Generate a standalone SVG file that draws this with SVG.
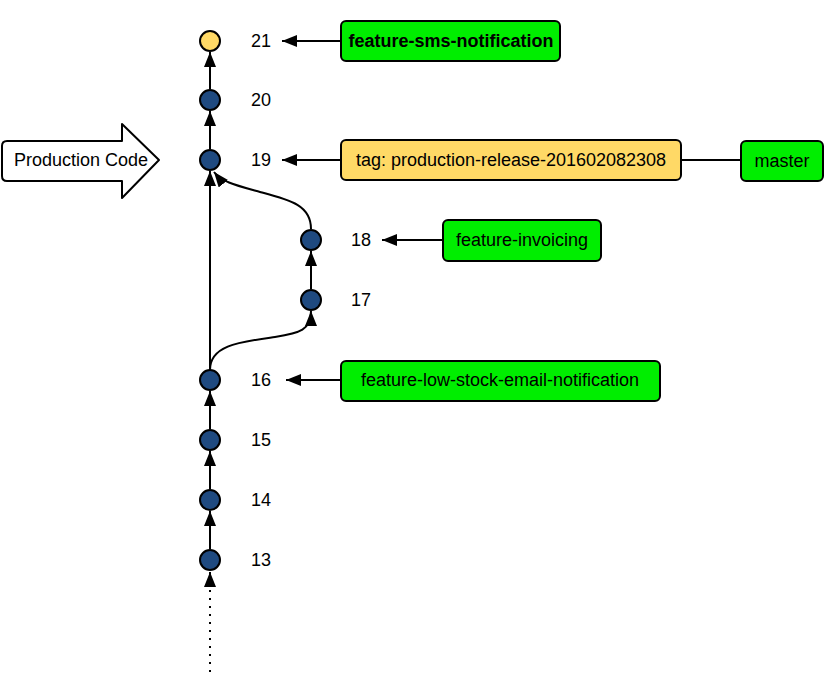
<svg xmlns="http://www.w3.org/2000/svg" width="831" height="676" viewBox="0 0 831 676">
  <style>
    .commit { fill: #1f4a80; stroke: #000; stroke-width: 2; }
    .head { fill: #ffd966; stroke: #000; stroke-width: 2; }
    .edge { fill: none; stroke: #000; stroke-width: 2; }
    .num { font-family: "Liberation Sans", Arial, sans-serif; font-size: 18px; fill: #000; }
    .lbl { font-family: "Liberation Sans", Arial, sans-serif; font-size: 18px; fill: #000; text-anchor: middle; }
    .branch { fill: #00ee00; stroke: #000; stroke-width: 2; }
    .tag { fill: #ffd966; stroke: #000; stroke-width: 2; }
  </style>
  <defs>
    <marker id="arrow" markerUnits="userSpaceOnUse" markerWidth="16" markerHeight="12" refX="15" refY="6" orient="auto">
      <path d="M0,0 L15,6 L0,12 z" fill="#000"/>
    </marker>
  </defs>

  <rect width="831" height="676" fill="#fff"/>

  <!-- connectors -->
  <g id="connectors">
    <line class="edge" x1="210" y1="89" x2="210" y2="52" marker-end="url(#arrow)"/>
    <line class="edge" x1="210" y1="149" x2="210" y2="111" marker-end="url(#arrow)"/>
    <line class="edge" x1="210" y1="369" x2="210" y2="171" marker-end="url(#arrow)"/>
    <path class="edge" d="M311,229 C311,205 290,200 260,192 C235,185 222,182 214,172" marker-end="url(#arrow)"/>
    <line class="edge" x1="311" y1="289" x2="311" y2="251" marker-end="url(#arrow)"/>
    <path class="edge" d="M210,370 C210,345 240,342 275,337 C300,333 311,330 311,311" marker-end="url(#arrow)"/>
    <line class="edge" x1="210" y1="429" x2="210" y2="391" marker-end="url(#arrow)"/>
    <line class="edge" x1="210" y1="489" x2="210" y2="451" marker-end="url(#arrow)"/>
    <line class="edge" x1="210" y1="549" x2="210" y2="511" marker-end="url(#arrow)"/>
    <line x1="210" y1="586" x2="210" y2="572" stroke="#000" stroke-width="2" marker-end="url(#arrow)"/>
    <line x1="210" y1="590" x2="210" y2="676" stroke="#000" stroke-width="2" stroke-dasharray="2,6"/>
    <!-- ref pointers -->
    <line class="edge" x1="341" y1="41" x2="282" y2="41" marker-end="url(#arrow)"/>
    <line class="edge" x1="341" y1="160" x2="282" y2="160" marker-end="url(#arrow)"/>
    <line class="edge" x1="681" y1="160" x2="741" y2="160"/>
    <line class="edge" x1="443" y1="240" x2="382" y2="240" marker-end="url(#arrow)"/>
    <line class="edge" x1="341" y1="380" x2="286" y2="380" marker-end="url(#arrow)"/>
  </g>

  <!-- production marker -->
  <g id="production-code">
    <path d="M7,141 L122,141 L122,124 L159,160 L122,198 L122,181 L7,181 Q2,181 2,176 L2,146 Q2,141 7,141 Z" fill="#fff" stroke="#000" stroke-width="2" stroke-linejoin="round"/>
    <text class="num" x="14" y="166">Production Code</text>
  </g>

  <!-- commits -->
  <g id="c21"><circle class="head" cx="210" cy="41" r="10"/><text class="num" x="251" y="47">21</text></g>
  <g id="c20"><circle class="commit" cx="210" cy="100" r="10"/><text class="num" x="251" y="106">20</text></g>
  <g id="c19"><circle class="commit" cx="210" cy="160" r="10"/><text class="num" x="251" y="166">19</text></g>
  <g id="c18"><circle class="commit" cx="311" cy="240" r="10"/><text class="num" x="351" y="246">18</text></g>
  <g id="c17"><circle class="commit" cx="311" cy="300" r="10"/><text class="num" x="351" y="306">17</text></g>
  <g id="c16"><circle class="commit" cx="210" cy="380" r="10"/><text class="num" x="251" y="386">16</text></g>
  <g id="c15"><circle class="commit" cx="210" cy="440" r="10"/><text class="num" x="251" y="446">15</text></g>
  <g id="c14"><circle class="commit" cx="210" cy="500" r="10"/><text class="num" x="251" y="506">14</text></g>
  <g id="c13"><circle class="commit" cx="210" cy="560" r="10"/><text class="num" x="251" y="566">13</text></g>

  <!-- refs -->
  <g id="ref-sms">
    <rect class="branch" x="341" y="21" width="219" height="40" rx="5"/>
    <text class="lbl" x="451" y="47" font-weight="bold">feature-sms-notification</text>
  </g>
  <g id="ref-tag">
    <rect class="tag" x="341" y="140" width="340" height="40" rx="5"/>
    <text class="lbl" x="511" y="166">tag: production-release-201602082308</text>
  </g>
  <g id="ref-master">
    <rect class="branch" x="741" y="141" width="82" height="40" rx="5"/>
    <text class="lbl" x="782" y="167">master</text>
  </g>
  <g id="ref-invoicing">
    <rect class="branch" x="443" y="220" width="158" height="41" rx="5"/>
    <text class="lbl" x="522" y="246">feature-invoicing</text>
  </g>
  <g id="ref-lowstock">
    <rect class="branch" x="341" y="361" width="319" height="40" rx="5"/>
    <text class="lbl" x="500" y="386">feature-low-stock-email-notification</text>
  </g>
</svg>
